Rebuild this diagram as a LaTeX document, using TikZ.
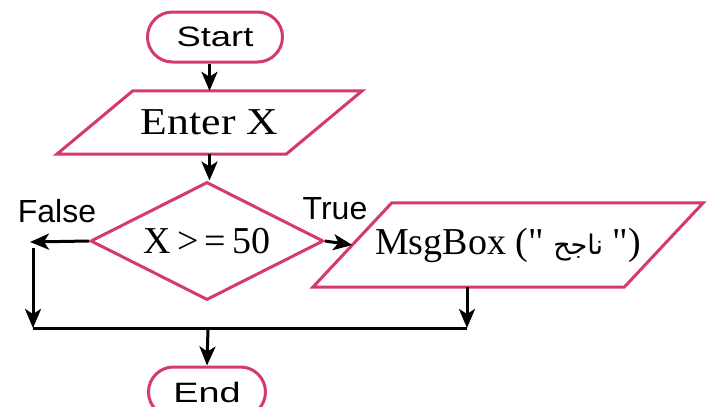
\documentclass[tikz,border=0pt]{standalone}
\usepackage{fontspec}
\usepackage{graphicx}
\setmainfont{Liberation Serif}
\setsansfont{Liberation Sans}
\newfontfamily\plainserif{Liberation Serif}
\newfontfamily\arabicfont[Script=Arabic]{DejaVu Sans}
\TeXXeTstate=1
\usetikzlibrary{shapes.geometric,arrows.meta}
\definecolor{rosy}{RGB}{212,58,108}
\tikzset{
  box/.style={draw=rosy, line width=3pt},
  term/.style={box, rectangle, rounded corners=25pt, inner sep=0pt,
    font=\sffamily\fontsize{28}{30}\selectfont},
  % text area of a parallelogram; its outline is drawn after the node
  iotext/.style={rectangle, inner sep=0pt,
    font=\plainserif\fontsize{38}{40}\selectfont},
  decision/.style={box, diamond, inner sep=0pt,
    font=\fontsize{38}{40}\selectfont},
  lbl/.style={font=\sffamily\fontsize{32}{34}\selectfont, inner sep=0pt},
  flow/.style={line width=3pt, black},
  arr/.style={flow, -{Stealth[length=19pt,width=16pt,inset=5pt]}}
}
\begin{document}
\begin{tikzpicture}[x=1pt,y=-1pt]
\useasboundingbox[fill=white] (0,0) rectangle (710,407);

% terminals
\node[term, minimum width=135pt, minimum height=50pt] (start) at (215,37)
  {\scalebox{1.3}[1]{Start}};
\node[term, minimum width=117pt, minimum height=50pt] (end) at (207,392)
  {\scalebox{1.35}[1]{End}};

% input: side 229, slant 76
\node[iotext, minimum width=229pt, minimum height=63pt] (enter) at (209.5,122.5)
  {\scalebox{1.15}[1]{Enter X}};
\draw[box, line join=miter]
  ([xshift=38pt]enter.north west) -- ([xshift=38pt]enter.north east)
  -- ([xshift=-38pt]enter.south east) -- ([xshift=-38pt]enter.south west)
  -- cycle;

% output: side 311, slant 79
\node[iotext, minimum width=311pt, minimum height=84pt] (msg) at (508,245)
  {MsgBox (" {\arabicfont\fontsize{27}{30}\selectfont\beginR ناجح\endR} ")};
\draw[box, line join=miter]
  ([xshift=39.5pt]msg.north west) -- ([xshift=39.5pt]msg.north east)
  -- ([xshift=-39.5pt]msg.south east) -- ([xshift=-39.5pt]msg.south west)
  -- cycle;

% decision
\node[decision, shape aspect=1.97, minimum width=233pt, minimum height=118pt]
  (dec) at (207,241) {X\,>\,=\,50};

% branch labels
\node[lbl] (lf) at (57,211) {False};
\node[lbl] (lt) at (335,209) {True};

% junction points
\coordinate (fl) at (30,242);
\coordinate (fa) at (33,248);
\coordinate (fb) at (33,328);
\coordinate (mr) at (467,328);
\coordinate (jm) at (208,328);

% connectors
\draw[arr] (enter.north |- start.south) -- (enter.north);
\draw[arr] (enter.south) -- (enter.south |- dec.north);
\draw[arr] (dec.west) -- (fl);
\draw[arr] (fa) -- (fb);
\draw[arr] (dec.east) -- (msg.west);
\draw[arr] (msg.south -| mr) -- (mr);
\draw[flow] (fb) -- (mr);
\draw[arr] (jm) -- (end.north);
\end{tikzpicture}
\end{document}
